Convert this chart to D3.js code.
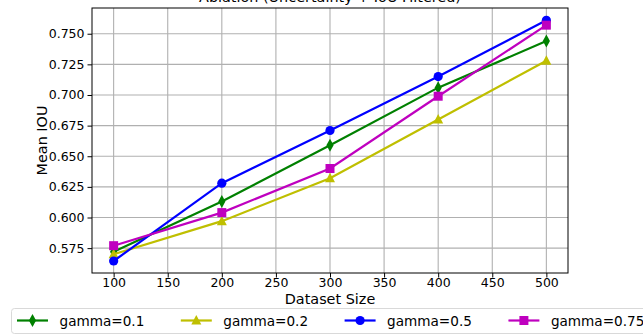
<!DOCTYPE html>
<html>
<head>
<meta charset="utf-8">
<script src="https://cdn.jsdelivr.net/npm/d3@7"></script>
<style>
  body { margin: 0; background: #fff; }
  svg { font-family: "DejaVu Sans", sans-serif; display: block; }
</style>
</head>
<body>
<figure id="chart" style="margin:0"></figure>
<script>
// chart values
const sizes = [100, 200, 300, 400, 500];
const gamma01 = [0.572, 0.613, 0.659, 0.706, 0.744];
const gamma02 = [0.570, 0.597, 0.632, 0.680, 0.728];
const gamma05 = [0.5645, 0.628, 0.671, 0.715, 0.761];
const gamma075 = [0.577, 0.604, 0.640, 0.699, 0.757];
const seriesNames = ["gamma=0.1", "gamma=0.2", "gamma=0.5", "gamma=0.75"];
const xTicks = [100, 150, 200, 250, 300, 350, 400, 450, 500];
const yTicks = [0.575, 0.600, 0.625, 0.650, 0.675, 0.700, 0.725, 0.750];

const width = 643;
const height = 335;
const margin = { left: 92, right: 75, top: 8, bottom: 62 };

const series = [
  { name: seriesNames[0], values: gamma01, color: "#008000", marker: "thin_diamond" },
  { name: seriesNames[1], values: gamma02, color: "#bfbf00", marker: "triangle" },
  { name: seriesNames[2], values: gamma05, color: "#0000ff", marker: "circle" },
  { name: seriesNames[3], values: gamma075, color: "#bf00bf", marker: "square" }
];

const svg = d3.select("#chart")
  .append("svg")
  .attr("width", width)
  .attr("height", height);

const x = d3.scaleLinear()
  .domain([80, 520])
  .range([margin.left, width - margin.right]);

const y = d3.scaleLinear()
  .domain([0.5547, 0.7710])
  .range([height - margin.bottom, margin.top]);

// grid
svg.append("g")
  .selectAll("line")
  .data(xTicks)
  .enter()
  .append("line")
  .attr("x1", d => x(d)).attr("x2", d => x(d))
  .attr("y1", margin.top).attr("y2", height - margin.bottom)
  .attr("stroke", "#b0b0b0")
  .attr("stroke-width", 1.1);

svg.append("g")
  .selectAll("line")
  .data(yTicks)
  .enter()
  .append("line")
  .attr("x1", margin.left).attr("x2", width - margin.right)
  .attr("y1", d => y(d)).attr("y2", d => y(d))
  .attr("stroke", "#b0b0b0")
  .attr("stroke-width", 1.1);

// axes
const xAxis = svg.append("g")
  .attr("transform", "translate(0," + (height - margin.bottom) + ")")
  .call(d3.axisBottom(x).tickValues(xTicks).tickSize(4.5).tickPadding(1).tickFormat(d3.format("d")));

const yAxis = svg.append("g")
  .attr("transform", "translate(" + margin.left + ",0)")
  .call(d3.axisLeft(y).tickValues(yTicks).tickSize(4.5).tickPadding(3).tickFormat(d3.format(".3f")));

[xAxis, yAxis].forEach(g => {
  g.select(".domain").remove();
  g.selectAll(".tick line").attr("stroke", "#000").attr("stroke-width", 1);
  g.selectAll(".tick text")
    .attr("fill", "#000")
    .style("font-size", "12.5px")
    .style("font-family", "DejaVu Sans");
});

// frame
svg.append("rect")
  .attr("x", margin.left)
  .attr("y", margin.top)
  .attr("width", width - margin.left - margin.right)
  .attr("height", height - margin.top - margin.bottom)
  .attr("fill", "none")
  .attr("stroke", "#000")
  .attr("stroke-width", 1);

// lines
const line = d3.line()
  .x((d, i) => x(sizes[i]))
  .y(d => y(d));

function markerPath(type) {
  if (type === "thin_diamond") return "M0,-6.5L3.6,0L0,6.5L-3.6,0Z";
  if (type === "triangle") return "M0,-5.5L5,4L-5,4Z";
  if (type === "square") return "M-4.5,-4.5H4.5V4.5H-4.5Z";
  return null;
}

function drawMarker(g, type, color, cx, cy) {
  if (type === "circle") {
    g.append("circle")
      .attr("cx", cx).attr("cy", cy).attr("r", 4.6)
      .attr("fill", color);
  } else {
    g.append("path")
      .attr("d", markerPath(type))
      .attr("transform", "translate(" + cx + "," + cy + ")")
      .attr("fill", color);
  }
}

series.forEach(s => {
  const g = svg.append("g");
  g.append("path")
    .datum(s.values)
    .attr("d", line)
    .attr("fill", "none")
    .attr("stroke", s.color)
    .attr("stroke-width", 2.2);
  s.values.forEach((v, i) => drawMarker(g, s.marker, s.color, x(sizes[i]), y(v)));
});

// title (mostly above the top edge of the figure, as in the original)
svg.append("text")
  .attr("x", (margin.left + width - margin.right) / 2)
  .attr("y", 2)
  .attr("text-anchor", "middle")
  .style("font-size", "14.4px")
  .text("Ablation (Uncertainty + IoU Filtered)");

// axis labels
svg.append("text")
  .attr("x", (margin.left + width - margin.right) / 2)
  .attr("y", 303.5)
  .attr("text-anchor", "middle")
  .style("font-size", "14.4px")
  .text("Dataset Size");

svg.append("text")
  .attr("transform", "translate(47," + ((margin.top + height - margin.bottom) / 2) + ") rotate(-90)")
  .attr("text-anchor", "middle")
  .style("font-size", "14.4px")
  .text("Mean IOU");

// legend
const legend = svg.append("g");
legend.append("rect")
  .attr("x", 11.5).attr("y", 308.5)
  .attr("width", 650).attr("height", 25)
  .attr("rx", 3)
  .attr("fill", "#fff")
  .attr("stroke", "#d9d9d9")
  .attr("stroke-width", 1);

series.forEach((s, i) => {
  const lx = 17 + i * 163.8;
  const ly = 320.5;
  legend.append("line")
    .attr("x1", lx).attr("x2", lx + 31)
    .attr("y1", ly).attr("y2", ly)
    .attr("stroke", s.color)
    .attr("stroke-width", 2.2);
  drawMarker(legend, s.marker, s.color, lx + 15.5, ly);
  legend.append("text")
    .attr("x", lx + 42.5)
    .attr("y", ly + 5)
    .style("font-size", "13.6px")
    .text(s.name);
});
</script>
</body>
</html>
